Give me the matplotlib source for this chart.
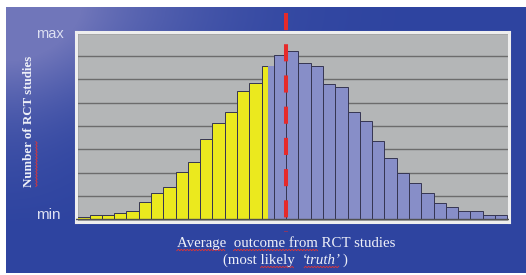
import numpy as np
import matplotlib
matplotlib.use('Agg')
import matplotlib.pyplot as plt
from matplotlib.lines import Line2D
from matplotlib.transforms import IdentityTransform

# bar heights (grid units, min=0, max=8)
yellow_heights = [0.11, 0.18, 0.18, 0.26, 0.37, 0.76, 1.11, 1.37, 2.04, 2.47,
                  3.43, 4.14, 4.61, 5.49, 5.83, 6.58]
blue_heights = [7.05, 7.20, 6.71, 6.56, 5.79, 5.67, 4.59, 4.21, 3.37, 2.63,
                1.98, 1.54, 1.11, 0.69, 0.51, 0.34, 0.34, 0.18, 0.17]
truth_at = 17          # bin edge of the most likely "truth"
y_labels = ["min", "max"]
xlabel_1 = "Average  outcome from RCT studies"
xlabel_2 = "(most likely"
xlabel_it = "\u2018truth\u2019"
ylabel = "Number of RCT studies"

W, H = 526, 275
fig = plt.figure(figsize=(W / 100, H / 100), dpi=100)
fig.patch.set_facecolor("white")

# blue "water" background, lighter in the top-left corner and down the left side
bg = fig.add_axes([6 / W, 2 / H, 520 / W, 266 / H])
yy, xx = np.mgrid[0:266, 0:520]
base = np.array([46, 68, 160]) / 255
light = np.array([112, 118, 186]) / 255
w = (np.exp(-((xx / 190) ** 2 + (yy / 90) ** 2))
     + 0.4 * np.exp(-(xx / 75) ** 2) * np.clip(1 - yy / 220, 0, 1))
w = np.clip(w, 0, 1)[..., None]
bg.imshow(base + (light - base) * w, aspect="auto", interpolation="bilinear")
bg.axis("off")

# main plot area
ax = fig.add_axes([75.5 / W, 1 - 222 / H, 433 / W, 190 / H])
ax.set_facecolor("#b4b6b7")
ax.set_xlim(-0.15, 35.1)
ax.set_ylim(-0.116, 8.03)
ax.set_yticks(range(0, 9))
ax.set_xticks([])
ax.tick_params(left=False, labelleft=False)
ax.grid(axis="y", color="#6c6c6c", linewidth=1.0)
ax.set_axisbelow(True)
for s in ax.spines.values():
    s.set_color("#eeeeee")
    s.set_linewidth(2.2)

n_y = len(yellow_heights)
edge = "#353552"
ax.bar(np.arange(n_y), yellow_heights, width=1, align="edge",
       color="#ebe91e", edgecolor=edge, linewidth=0.7, zorder=2)
ax.bar(np.arange(n_y, n_y + len(blue_heights)), blue_heights, width=1, align="edge",
       color="#878ec8", edgecolor=edge, linewidth=0.7, zorder=2)
# blue histogram overlaps the last yellow bin a little
ax.bar(n_y - 0.45, yellow_heights[-1], width=0.45, align="edge",
       color="#878ec8", edgecolor="none", zorder=2.5)
ax.axvline(0, color="#707070", linewidth=1.0, zorder=1.5)
ax.axhline(0, color="#505050", linewidth=1.0, zorder=3)

# red dashed "truth" line, running past the plot box
ax.plot([truth_at, truth_at], [8.84, -0.54], color="#e62a2a", linewidth=2.9,
        dashes=(17 / 4, 14 / 4), solid_capstyle="butt", dash_capstyle="butt",
        clip_on=False, zorder=5)

sans = dict(family="Liberation Sans", color="#dde0f2")
fig.text(49.5 / W, 1 - 38 / H, y_labels[1], ha="center", va="baseline", fontsize=10.5, **sans)
fig.text(48.5 / W, 1 - 219 / H, y_labels[0], ha="center", va="baseline", fontsize=11, **sans)

serif = dict(family="Liberation Serif", color="#eef0f8")
ty = fig.text(29 / W, 1 - 121 / H, ylabel, rotation=90, ha="center", va="center",
              fontsize=9.3, fontweight="bold", **serif)
t1 = fig.text(286 / W, 1 - 247 / H, xlabel_1, ha="center", va="baseline", fontsize=10.7, **serif)

fig.canvas.draw()
r = fig.canvas.get_renderer()


def width(s, **kw):
    t = fig.text(0, 0, s, **kw)
    wd = t.get_window_extent(r).width
    t.remove()
    return wd


def wavy(x0, x1, y0, vertical=False):
    p = np.arange(0, x1 - x0, 1.5)
    off = np.where(np.arange(len(p)) % 2 == 0, -0.7, 0.7)
    if vertical:
        xs, ys = y0 + off, x0 + p
    else:
        xs, ys = x0 + p, y0 + off
    fig.add_artist(Line2D(xs, ys, color="#e03535", linewidth=0.6, transform=IdentityTransform()))


# second x label line: regular + italic pieces
reg = dict(fontsize=10.7, **serif)
ita = dict(fontsize=10.7, style="italic", **serif)
w_a = width(xlabel_2, **reg)
sp = 0.25 * 10.7 * 100 / 72
w_b = width(xlabel_it, **ita)
w_c = width(")", **reg)
x0 = 285 - (w_a + 2 * sp + w_b + w_c + 1) / 2
base2 = 1 - 264 / H
fig.text(x0 / W, base2, xlabel_2, ha="left", va="baseline", **reg)
fig.text((x0 + w_a + 2 * sp) / W, base2, xlabel_it, ha="left", va="baseline", **ita)
fig.text((x0 + w_a + 2 * sp + w_b + 1) / W, base2, ")", ha="left", va="baseline", **reg)

# spell-check squiggles
left1 = t1.get_window_extent(r).x0
for word in ["Average", "outcome from"]:
    end = left1 + width(xlabel_1[:xlabel_1.index(word) + len(word)], **reg)
    wavy(end - width(word, **reg), end, H - 250)
end = x0 + w_a
wavy(end - width("likely", **reg), end, H - 267)
wavy(x0 + w_a + 2 * sp + 2, x0 + w_a + 2 * sp + w_b - 2, H - 267)
byl = ty.get_window_extent(r)
wavy(byl.y0, byl.y0 + width("Number", fontsize=9.3, fontweight="bold", **serif), byl.x1 + 1.5, vertical=True)

fig.savefig("out.png", dpi=100, facecolor="white")
